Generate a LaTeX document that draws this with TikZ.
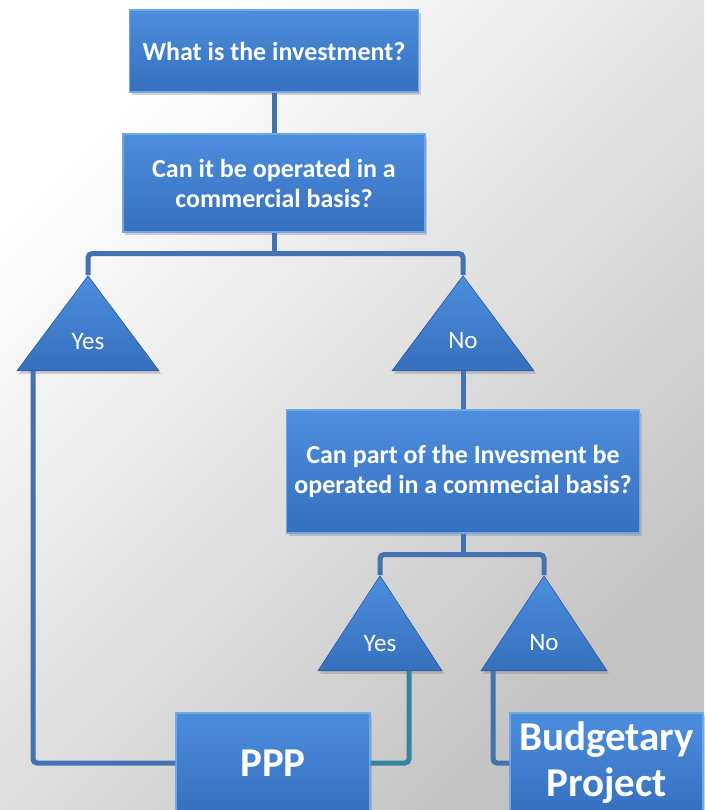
\documentclass[tikz,border=0pt]{standalone}
\usepackage{fontspec}
\setmainfont{Carlito}
\usetikzlibrary{calc,shadows,shapes.geometric}

\definecolor{boxtop}{RGB}{76,142,222}
\definecolor{boxbot}{RGB}{54,112,190}
\definecolor{boxedge}{RGB}{112,168,230}
\definecolor{linkblue}{RGB}{66,114,176}
\definecolor{linkteal}{RGB}{49,133,156}

\begin{document}
\begin{tikzpicture}[x=1pt,y=-1pt,
  qbox/.style={draw=boxedge, line width=1.2pt, top color=boxtop, bottom color=boxbot,
    drop shadow={opacity=0.35,shadow xshift=2pt,shadow yshift=-3pt},
    text=white, align=center, inner sep=0pt, font=\bfseries\fontsize{26}{30}\selectfont},
  bigbox/.style={qbox, font=\bfseries\fontsize{41}{46}\selectfont},
  answer/.style={isosceles triangle, isosceles triangle stretches, shape border rotate=90,
    draw=boxbot!80!black, line width=0.6pt, top color=boxtop, bottom color=boxbot,
    drop shadow={opacity=0.35,shadow xshift=2pt,shadow yshift=-3pt},
    text=white, inner sep=0pt, font=\fontsize{25}{28}\selectfont},
  link/.style={draw=linkblue, line width=5pt, rounded corners=4pt}]

  \useasboundingbox (0,0) rectangle (704,810);
  \shade[left color=white, right color=black!24, shading angle=45] (0,0) rectangle (704,810);

  \node[qbox, minimum width=289pt, minimum height=82pt] (invest) at (274,51) {What is the investment?};
  \node[qbox, minimum width=302pt, minimum height=98pt] (commercial) at (274,183) {Can it be operated in a\\commercial basis?};
  \node[answer, minimum width=142pt, minimum height=95pt, anchor=apex] (yes1) at (88,275) {Yes};
  \node[answer, minimum width=142pt, minimum height=95pt, anchor=apex] (no1) at (463,275) {No};
  \node[qbox, minimum width=353pt, minimum height=123pt] (part) at (463,471.5) {Can part of the Invesment be\\operated in a commecial basis?};
  \node[answer, minimum width=124pt, minimum height=95pt, anchor=apex] (yes2) at (380,575) {Yes};
  \node[answer, minimum width=126pt, minimum height=95pt, anchor=apex] (no2) at (544,575) {No};
  \node[bigbox, minimum width=194pt, minimum height=100pt] (ppp) at (273,763) {PPP};
  \node[bigbox, minimum width=193pt, minimum height=100pt] (budget) at (606.5,763) {Budgetary\\Project};

  \coordinate (split1) at ([yshift=-21pt]commercial.south);
  \coordinate (split2) at ([yshift=-21pt]part.south);

  \draw[link] (invest.south) -- (commercial.north);
  \draw[link] (commercial.south) -- (split1);
  \draw[link] (yes1.apex) |- (split1) -| (no1.apex);
  \draw[link] (no1.lower side) -- (part.north);
  \draw[link] (part.south) -- (split2);
  \draw[link] (yes2.apex) |- (split2) -| (no2.apex);
  \draw[link] ([xshift=-55pt]yes1.lower side) |- (ppp.west);
  \draw[link, draw=linkteal] ([xshift=29pt]yes2.lower side) |- (ppp.east);
  \draw[link] ([xshift=-51pt]no2.lower side) |- (budget.west);
\end{tikzpicture}
\end{document}
